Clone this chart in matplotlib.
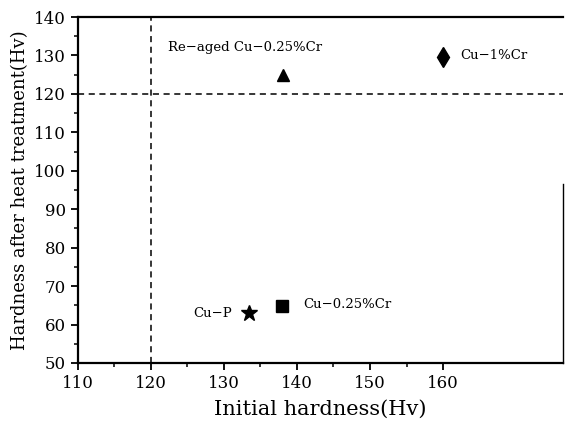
import matplotlib
matplotlib.use("Agg")
import matplotlib.pyplot as plt
from matplotlib.ticker import MultipleLocator, FixedLocator

# data
names = ["Cu−P", "Cu−0.25%Cr", "Re−aged Cu−0.25%Cr", "Cu−1%Cr"]
initial = [133.4, 137.9, 138.1, 160.0]
after = [62.9, 64.8, 125.0, 129.6]
markers = ["*", "s", "^", "d"]
sizes = [12, 8, 9, 10]
label_xy = [(125.8, 62.9), (140.8, 65.3), (122.3, 132.0), (162.3, 130.1)]
threshold = 120

plt.rcParams["font.family"] = ["DejaVu Serif"]

fig = plt.figure(figsize=(5.65, 4.26), dpi=100)
ax = fig.add_axes([0.138, 0.148, 0.858, 0.812])

for x, y, m, s in zip(initial, after, markers, sizes):
    ax.plot(x, y, marker=m, color="black", markersize=s, linestyle="none")

for name, (lx, ly) in zip(names, label_xy):
    ax.text(lx, ly, name, fontsize=9.5, va="center", ha="left")

ax.axvline(threshold, color="black", linestyle=(0, (4, 3)), linewidth=1.1)
ax.axhline(threshold, color="black", linestyle=(0, (4, 3)), linewidth=1.1)

ax.set_xlim(110, 176.4)
ax.set_ylim(50, 140)
ax.xaxis.set_major_locator(FixedLocator([110, 120, 130, 140, 150, 160]))
ax.xaxis.set_minor_locator(FixedLocator([115, 125, 135, 145, 155]))
ax.yaxis.set_major_locator(MultipleLocator(10))
ax.yaxis.set_minor_locator(MultipleLocator(5))
ax.tick_params(which="major", length=5, width=1.3, labelsize=12)
ax.tick_params(which="minor", length=3, width=1.1)

for side in ["left", "bottom", "top"]:
    ax.spines[side].set_linewidth(1.6)
ax.spines["right"].set_linewidth(1.0)
ax.spines["right"].set_bounds(50, 96.5)

ax.set_xlabel("Initial hardness(Hv)", fontsize=15, labelpad=6)
ax.set_ylabel("Hardness after heat treatment(Hv)", fontsize=13)

fig.savefig("out.png", dpi=100)
